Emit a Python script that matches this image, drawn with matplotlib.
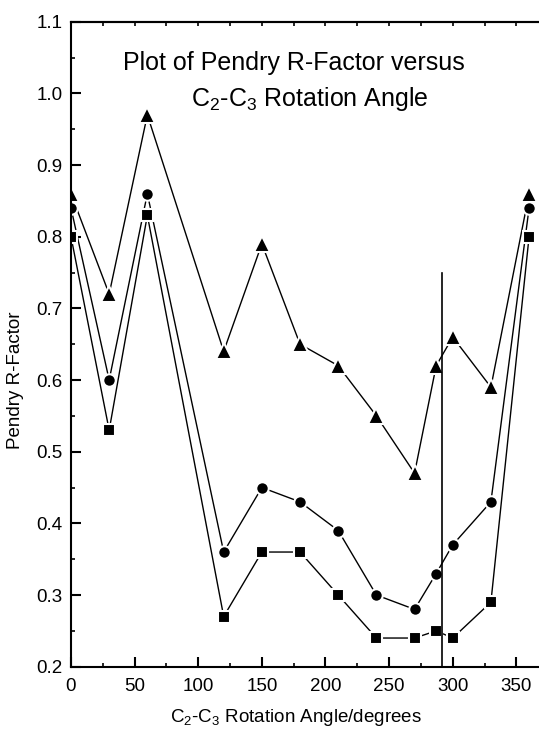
import matplotlib
matplotlib.use('Agg')
import matplotlib.pyplot as plt
import numpy as np

plt.rcParams['font.family'] = ['Liberation Sans', 'DejaVu Sans']
plt.rcParams['mathtext.fontset'] = 'custom'
plt.rcParams['mathtext.rm'] = 'Liberation Sans'

# rotation angle (degrees)
angle = [0, 30, 60, 120, 150, 180, 210, 240, 270, 287, 300, 330, 360]
# Pendry R-factor, three series
r_tri = [0.86, 0.72, 0.97, 0.64, 0.79, 0.65, 0.62, 0.55, 0.47, 0.62, 0.66, 0.59, 0.86]
r_circ = [0.84, 0.60, 0.86, 0.36, 0.45, 0.43, 0.39, 0.30, 0.28, 0.33, 0.37, 0.43, 0.84]
r_sq = [0.80, 0.53, 0.83, 0.27, 0.36, 0.36, 0.30, 0.24, 0.24, 0.25, 0.24, 0.29, 0.80]
vline_x = 291.5
vline_top = 0.75

W, H = 539, 730
fig = plt.figure(figsize=(W/100, H/100), dpi=100)
ax = fig.add_axes([71/W, (H-666.7)/H, (W-71)/W, 645/H])

common = dict(color='k', lw=1.0, mec='white', mew=1.5, mfc='k')
ax.plot(angle, r_tri, marker='^', ms=11.5, **common)
ax.plot(angle, r_circ, marker='o', ms=9, **common)
ax.plot(angle, r_sq, marker='s', ms=8.5, **common)
ax.plot([vline_x, vline_x], [0.2, vline_top], color='k', lw=1.2)

ax.set_xlim(0, 367.8)
ax.set_ylim(0.2, 1.1)
ax.set_xticks(np.arange(0, 351, 50))
ax.set_xticks(np.arange(0, 366, 25), minor=True)
ax.set_yticks(np.arange(0.2, 1.11, 0.1))
ax.set_yticks(np.arange(0.25, 1.1, 0.1), minor=True)
ax.set_yticklabels(['%.1f' % v for v in np.arange(0.2, 1.11, 0.1)])
ax.tick_params(which='major', direction='in', length=7.5, width=1.5, labelsize=13.5, pad=8)
ax.tick_params(which='minor', direction='in', length=3, width=1.2)
ax.tick_params(axis='y', pad=6)
ax.tick_params(top=False, right=False)
for s in ['left', 'bottom', 'top']:
    ax.spines[s].set_linewidth(1.5)
ax.spines['right'].set_visible(False)

sec = ax.secondary_xaxis('top')
sec.set_xticks(np.arange(0, 366, 25))
sec.tick_params(direction='in', length=3, width=1.2, labeltop=False)
sec.spines['top'].set_linewidth(1.5)

fig.text(294/W, 1-70/H, 'Plot of Pendry R-Factor versus', fontsize=18,
         ha='center', va='baseline')
fig.text(310/W, 1-106/H, r'C$_\mathregular{2}$-C$_\mathregular{3}$ Rotation Angle',
         fontsize=18, ha='center', va='baseline')

fig.text(296/W, 1-717/H, r'C$_\mathregular{2}$-C$_\mathregular{3}$ Rotation Angle/degrees',
         fontsize=13.5, ha='center', va='center')
fig.text(16/W, 1-380/H, 'Pendry R-Factor', fontsize=13.5, rotation=90,
         ha='center', va='center')

fig.savefig('out.png', dpi=100)
